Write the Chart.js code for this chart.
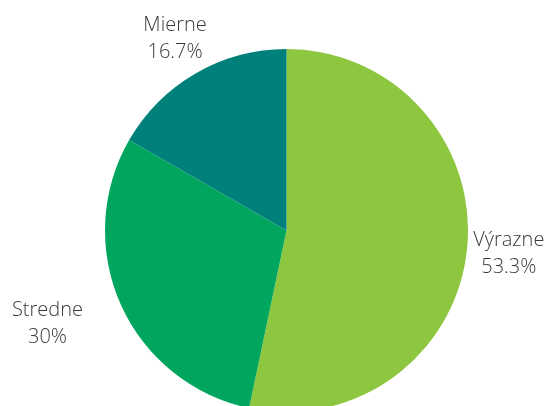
<!DOCTYPE html>
<html><head><meta charset="utf-8">
<script src="https://cdn.jsdelivr.net/npm/chart.js@4/dist/chart.umd.min.js"></script>
<style>
html,body{margin:0;padding:0;background:#fff;overflow:hidden;}
#wrap{width:547px;height:420px;position:relative;}
</style></head>
<body><div id="wrap"><canvas id="c"></canvas></div>
<script>
const categories = ["Výrazne", "Stredne", "Mierne"];
const values = [53.3, 30, 16.7];
const valueLabels = ["53.3%", "30%", "16.7%"];
const colors = ["#8DC63F", "#00A65D", "#00807A"];

const labelPlugin = {
  id: 'outLabels',
  afterDatasetsDraw(chart, args, opts) {
    const ctx = chart.ctx;
    const meta = chart.getDatasetMeta(0);
    ctx.save();
    ctx.font = '300 20px "Open Sans"';
    ctx.fillStyle = '#3a3a3a';
    ctx.textAlign = 'center';
    ctx.textBaseline = 'middle';
    meta.data.forEach((arc, i) => {
      const p = arc.getProps(['x','y','startAngle','endAngle','outerRadius'], true);
      const mid = (p.startAngle + p.endAngle) / 2;
      const d = p.outerRadius + opts.gap[i];
      const cx = p.x + Math.cos(mid) * d + opts.shift[i][0];
      const cy = p.y + Math.sin(mid) * d + opts.shift[i][1];
      ctx.fillText(categories[i], cx, cy - 13);
      ctx.fillText(valueLabels[i], cx, cy + 14);
    });
    ctx.restore();
  }
};

new Chart(document.getElementById('c'), {
  type: 'pie',
  data: { labels: categories, datasets: [{ data: values, backgroundColor: colors, borderWidth: 0 }] },
  options: {
    responsive: true, maintainAspectRatio: false, animation: false,
    layout: { padding: { top: 49, bottom: 8, left: 26, right: 0 } },
    plugins: { legend: { display: false }, tooltip: { enabled: false },
      outLabels: { gap: [42, 76, 41], shift: [[0,0],[-4,-12],[0,0]] } }
  },
  plugins: [labelPlugin]
});
</script></body></html>
